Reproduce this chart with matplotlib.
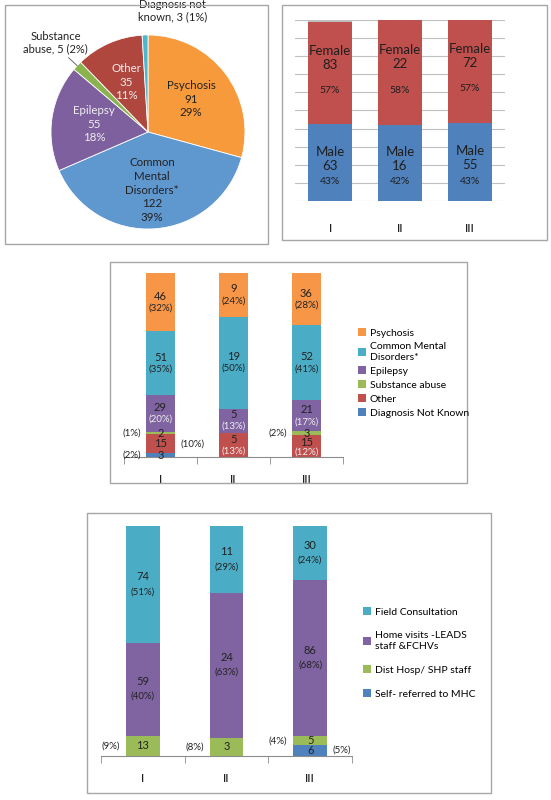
import numpy as np
import matplotlib.pyplot as plt
from matplotlib.patches import Rectangle

plt.rcParams['font.family'] = ['Lato', 'DejaVu Sans']

# pie: diagnosis of all patients
pie_labels = ['Psychosis', 'Common\nMental\nDisorders*', 'Epilepsy', 'Substance abuse', 'Other', 'Diagnosis not known']
pie_values = [91, 122, 55, 5, 35, 3]
pie_pcts = ['29%', '39%', '18%', '2%', '11%', '1%']
pie_colors = ['#F79A3C', '#5F97CF', '#7E609E', '#8AB34F', '#B0473F', '#4EB7D0']

# gender by group
groups = ['I', 'II', 'III']
male = [63, 16, 55]
female = [83, 22, 72]
unknown_sex = [2, 0, 0]
male_pct = ['43%', '42%', '43%']
female_pct = ['57%', '58%', '57%']

# diagnosis by group
diag_names = ['Diagnosis Not Known', 'Other', 'Substance abuse', 'Epilepsy', 'Common Mental\nDisorders*', 'Psychosis']
diag_vals = [[3, 0, 0], [15, 5, 15], [2, 0, 3], [29, 5, 21], [51, 19, 52], [46, 9, 36]]
diag_pct = [['(2%)', '', ''], ['(10%)', '(13%)', '(12%)'], ['(1%)', '', '(2%)'],
            ['(20%)', '(13%)', '(17%)'], ['(35%)', '(50%)', '(41%)'], ['(32%)', '(24%)', '(28%)']]
diag_colors = ['#4F81BD', '#C0504D', '#9BBB59', '#8064A2', '#4BACC6', '#F79646']

# referral source by group
ref_names = ['Self- referred to MHC', 'Dist Hosp/ SHP staff', 'Home visits -LEADS\nstaff &FCHVs', 'Field Consultation']
ref_vals = [[0, 0, 6], [13, 3, 5], [59, 24, 86], [74, 11, 30]]
ref_pct = [['', '', '(5%)'], ['(9%)', '(8%)', '(4%)'], ['(40%)', '(63%)', '(68%)'], ['(51%)', '(29%)', '(24%)']]
ref_colors = ['#4F81BD', '#9BBB59', '#8064A2', '#4BACC6']

W, H = 551, 800
fig = plt.figure(figsize=(W / 100, H / 100), dpi=100)


def box(x0, y0, x1, y1):
    # pixel box -> figure fraction rect
    return [x0 / W, 1 - y1 / H, (x1 - x0) / W, (y1 - y0) / H]


def frame(x0, y0, x1, y1):
    r = Rectangle((x0 / W, 1 - y1 / H), (x1 - x0) / W, (y1 - y0) / H, transform=fig.transFigure,
                  fill=False, edgecolor='#A6A6A6', linewidth=1.0)
    fig.patches.append(r)


fs = 8.3

# ---- pie
frame(5, 5, 268, 244)
ax = fig.add_axes(box(51, 35, 245, 229))
ax.pie(pie_values, colors=pie_colors, startangle=90, counterclock=False, radius=1,
       wedgeprops=dict(edgecolor='white', linewidth=0.6))
ax.set_xlim(-1, 1)
ax.set_ylim(-1, 1)
ax.set_aspect('equal')
ang = 90 - 360 * (np.cumsum(pie_values) - np.array(pie_values) / 2) / sum(pie_values)
txtcol = ['#222222', '#222222', '#EEEEEE', '#222222', '#EEEEEE', '#222222']
for i in [0, 1, 2, 4]:
    r = 0.6 if i == 1 else 0.56
    a = np.deg2rad(ang[i])
    ax.text(r * np.cos(a), r * np.sin(a), f'{pie_labels[i]}\n{pie_values[i]}\n{pie_pcts[i]}',
            ha='center', va='center', fontsize=fs, color=txtcol[i], linespacing=1.3)
for i in [3, 5]:
    a = np.deg2rad(ang[i])
    ax.plot([np.cos(a) * 1.0, np.cos(a) * 1.12], [np.sin(a) * 1.0, np.sin(a) * 1.12], color='#555555', lw=0.6)
ax.text(-0.95, 0.8, 'Substance\nabuse, 5 (2%)', ha='center', va='bottom', fontsize=fs - 0.3, color='#222222')
ax.text(0.25, 1.13, 'Diagnosis not\nknown, 3 (1%)', ha='center', va='bottom', fontsize=fs - 0.3, color='#222222')

# ---- gender stacked
frame(282, 5, 547, 240)
ax = fig.add_axes(box(295, 20, 505, 201))
x = np.arange(len(groups))
tot = np.array(male) + np.array(female) + np.array(unknown_sex)
m = np.array(male) / tot
f = np.array(female) / tot
u = np.array(unknown_sex) / tot
ax.bar(x, m, width=0.64, color='#4F81BD')
ax.bar(x, f, bottom=m, width=0.64, color='#C0504D')
ax.bar(x, u, bottom=m + f, width=0.64, color='#BFBFBF')
for i in range(3):
    ax.text(x[i], m[i] * 0.55, f'Male\n{male[i]}', ha='center', va='center', fontsize=9.5, color='#1F1F1F')
    ax.text(x[i], m[i] * 0.25, male_pct[i], ha='center', va='center', fontsize=7.5, color='#1F1F1F')
    ax.text(x[i], m[i] + f[i] * 0.65, f'Female\n{female[i]}', ha='center', va='center', fontsize=9.5, color='#1F1F1F')
    ax.text(x[i], m[i] + f[i] * 0.33, female_pct[i], ha='center', va='center', fontsize=7.5, color='#1F1F1F')
ax.set_xlim(-0.5, 2.5)
ax.set_ylim(0, 1)
ax.set_yticks(np.linspace(0, 1, 11))
ax.yaxis.grid(True, color='#BFBFBF', lw=0.8)
ax.set_axisbelow(True)
ax.tick_params(left=False, labelleft=False, bottom=False)
ax.set_xticks(x)
ax.set_xticklabels(groups, fontsize=8.5)
ax.tick_params(axis='x', pad=12)
for s in ax.spines.values():
    s.set_visible(False)


def stacked(ax, vals, pcts, colors, names, outside, whitecols):
    vals = np.array(vals, dtype=float)
    tot = vals.sum(axis=0)
    bottom = np.zeros(3)
    xx = np.arange(3)
    for k in range(len(vals)):
        h = vals[k] / tot
        ax.bar(xx, h, bottom=bottom, width=0.4, color=colors[k], label=names[k])
        for i in range(3):
            if vals[k][i] == 0:
                continue
            c = '#EEEEEE' if (k, i) in whitecols else '#222222'
            mid = bottom[i] + h[i] / 2
            if (k, i) in outside:
                side = outside[(k, i)]
                ax.text(xx[i], mid, f'{int(vals[k][i])}', ha='center', va='center', fontsize=8, color='#222222')
                ax.text(xx[i] + side * 0.27, mid, pcts[k][i], ha='right' if side < 0 else 'left',
                        va='center', fontsize=7, color='#222222')
            elif h[i] < 0.12:
                ax.text(xx[i], bottom[i] + h[i] * 0.68, f'{int(vals[k][i])}', ha='center', va='center', fontsize=8, color='#222222')
                ax.text(xx[i], bottom[i] + h[i] * 0.22, pcts[k][i], ha='center', va='center', fontsize=7, color=c)
            else:
                ax.text(xx[i], mid + 0.032, f'{int(vals[k][i])}', ha='center', va='center', fontsize=8, color='#222222')
                ax.text(xx[i], mid - 0.032, pcts[k][i], ha='center', va='center', fontsize=7, color=c)
        bottom += h
    ax.set_xlim(-0.5, 2.5)
    ax.set_ylim(0, 1)
    ax.set_yticks([])
    for s in ['top', 'right', 'left']:
        ax.spines[s].set_visible(False)
    ax.spines['bottom'].set_color('#8C8C8C')
    ax.set_xticks([-0.5, 0.5, 1.5, 2.5], minor=True)
    ax.tick_params(axis='x', which='minor', length=5, color='#8C8C8C', direction='out')
    ax.tick_params(axis='x', which='major', length=0, pad=12)
    ax.set_xticks(xx)
    ax.set_xticklabels(groups, fontsize=8.5)


# ---- diagnosis by group
frame(110, 262, 467, 483)
ax = fig.add_axes(box(124, 273, 343, 457))
stacked(ax, diag_vals, diag_pct, diag_colors, diag_names,
        {(0, 0): -1, (1, 0): 1, (2, 0): -1, (2, 2): -1}, {(3, 0), (3, 1), (1, 1), (1, 2), (3, 2)})
h, l = ax.get_legend_handles_labels()
fig.legend(h[::-1], l[::-1], loc='center left', bbox_to_anchor=(349 / W, 1 - 373 / H), frameon=False,
           fontsize=7.5, handlelength=0.7, handleheight=0.7, handletextpad=0.4, labelspacing=0.45)

# ---- referral source by group
frame(87, 513, 491, 793)
ax = fig.add_axes(box(101, 526, 352, 756))
stacked(ax, ref_vals, ref_pct, ref_colors, ref_names,
        {(1, 0): -1, (1, 1): -1, (1, 2): -1, (0, 2): 1}, set())
h, l = ax.get_legend_handles_labels()
fig.legend(h[::-1], l[::-1], loc='center left', bbox_to_anchor=(354 / W, 1 - 653 / H), frameon=False,
           fontsize=7.5, handlelength=0.7, handleheight=0.7, handletextpad=0.4, labelspacing=1.4)

fig.savefig('out.png', dpi=100, facecolor='white')
